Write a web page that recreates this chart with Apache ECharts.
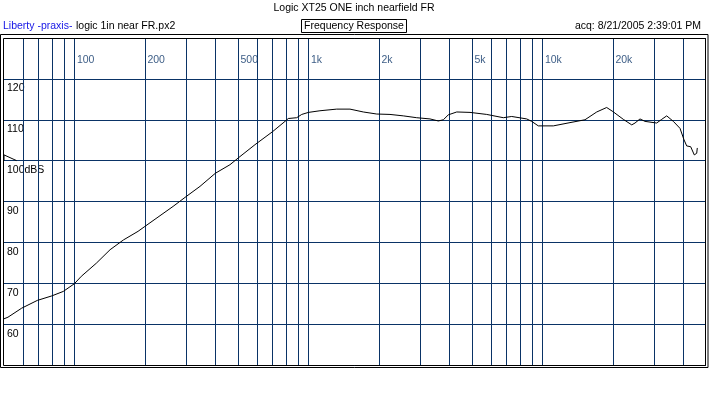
<!DOCTYPE html>
<html>
<head>
<meta charset="utf-8">
<script src="https://cdn.jsdelivr.net/npm/echarts@6/dist/echarts.min.js"></script>
<style>
html,body{margin:0;padding:0;background:#fff;}
#chart{width:709px;height:395px;}
</style>
</head>
<body>
<div id="chart"></div>
<script>
// Frequency response (Hz -> dB SPL)
var freq = [50, 52, 59.5, 69.4, 80, 89.6, 100, 107, 124, 142, 162, 187, 200, 264, 300, 344, 400, 462, 510, 591, 703, 794, 820, 891, 936, 1000, 1120, 1321, 1505, 1716, 1958, 2231, 2543, 2901, 3307, 3589, 3771, 3960, 4302, 4903, 5778, 6805, 7391, 8565, 8997, 9599, 11130, 13117, 15200, 17060, 18815, 20000, 22163, 24075, 24870, 26120, 27440, 30780, 32340, 33970, 36260, 38710, 40270, 41350, 43010, 44560, 45630, 45900];
var spl = [61.3, 61.7, 63.9, 65.8, 66.9, 68.0, 69.9, 71.7, 74.9, 78.2, 80.6, 82.7, 83.9, 88.8, 91.2, 93.7, 96.9, 99.0, 101.0, 103.9, 107.1, 109.6, 110.3, 110.5, 111.3, 111.8, 112.2, 112.6, 112.6, 111.9, 111.4, 111.3, 110.95, 110.5, 110.2, 109.7, 110.0, 111.2, 111.9, 111.8, 111.3, 110.5, 110.8, 110.2, 109.6, 108.5, 108.5, 109.3, 110.0, 111.9, 113.0, 112.0, 110.1, 108.75, 109.2, 110.2, 109.6, 109.2, 110.1, 110.95, 109.6, 107.9, 105.1, 103.6, 103.4, 101.4, 101.8, 103.1];

// reference level marker
var refFreq = [50, 50, 56.6];
var refLevel = [100, 101.4, 100];

// axes
var gridFreqs = [60, 70, 80, 90, 100, 200, 300, 400, 500, 600, 700, 800, 900, 1000, 2000, 3000, 4000, 5000, 6000, 7000, 8000, 9000, 10000, 20000, 30000, 40000];
var labelFreqs = [100, 200, 500, 1000, 2000, 5000, 10000, 20000];
var labelTexts = ['100', '200', '500', '1k', '2k', '5k', '10k', '20k'];
var yTicks = [60, 70, 80, 90, 100, 110, 120];
var yTickTexts = ['60', '70', '80', '90', '100dBS', '110', '120'];

var FONT = '"Liberation Sans", Arial, sans-serif';
var FS = 10.5;
var GRID = '#0a3366';

var chart = echarts.init(document.getElementById('chart'), null, {renderer: 'canvas'});

var curve = freq.map(function (f, i) { return [f, spl[i]]; });
var ref = refFreq.map(function (f, i) { return [f, refLevel[i]]; });
var labelRow = 124.6;
var labelPts = labelFreqs.map(function (f, i) { return {value: [f, labelRow], name: labelTexts[i]}; });

var option = {
  animation: false,
  backgroundColor: '#fff',
  textStyle: {fontFamily: FONT},
  grid: {left: 4, right: 3, top: 38, bottom: 30, show: false},
  xAxis: {
    type: 'log', logBase: 10, min: 50, max: 50000,
    axisLine: {show: false}, axisTick: {show: false}, axisLabel: {show: false},
    splitLine: {show: false}, minorSplitLine: {show: false}
  },
  yAxis: {
    type: 'value', min: 50, max: 130, interval: 10,
    axisLine: {show: false}, axisTick: {show: false},
    splitLine: {show: true, lineStyle: {color: GRID, width: 1}},
    axisLabel: {
      show: true, inside: true, margin: 3, verticalAlign: 'top', padding: [4, 0, 0, 0],
      color: '#000', fontSize: FS, fontFamily: FONT,
      formatter: function (v) {
        var i = yTicks.indexOf(v);
        return i >= 0 ? yTickTexts[i] : '';
      }
    }
  },
  series: [
    {
      // vertical grid lines at each frequency, positioned by the log x axis
      type: 'custom', data: gridFreqs, z: 1, silent: true, clip: false,
      renderItem: function (params, api) {
        var f = api.value(0);
        var top = api.coord([f, 130]);
        var bot = api.coord([f, 50]);
        var x = Math.round(top[0]) + 0.5;
        return {
          type: 'line',
          shape: {x1: x, y1: top[1], x2: x, y2: bot[1]},
          style: {stroke: GRID, lineWidth: 1}
        };
      },
      encode: {x: 0}
    },
    {
      type: 'scatter', data: labelPts, symbolSize: 1, z: 2, silent: true,
      itemStyle: {color: 'rgba(0,0,0,0)'},
      label: {
        show: true, position: 'right', distance: 2, color: GRID, fontSize: FS, fontFamily: FONT,
        formatter: function (p) { return p.name; }
      }
    },
    {
      type: 'line', data: curve, z: 5, silent: true, showSymbol: false, symbol: 'none',
      lineStyle: {color: '#000', width: 1}, clip: true
    },
    {
      type: 'line', data: ref, z: 5, silent: true, showSymbol: false, symbol: 'none',
      lineStyle: {color: '#000', width: 1}, clip: false
    }
  ],
  graphic: [
    {type: 'rect', z: 100, silent: true, shape: {x: 0.5, y: 34.5, width: 707.5, height: 333}, style: {fill: null, stroke: '#000', lineWidth: 1}},
    {type: 'rect', z: 100, silent: true, shape: {x: 3.5, y: 38.5, width: 702, height: 327}, style: {fill: null, stroke: '#000', lineWidth: 1}},
    {type: 'text', z: 100, silent: true, x: 354, y: 8, style: {text: 'Logic XT25 ONE inch nearfield FR', font: FS + 'px ' + FONT, fill: '#000', align: 'center', verticalAlign: 'middle'}},
    {type: 'rect', z: 100, silent: true, shape: {x: 301.5, y: 19.5, width: 105, height: 13}, style: {fill: null, stroke: '#000', lineWidth: 1}},
    {type: 'text', z: 100, silent: true, x: 354, y: 26, style: {text: 'Frequency Response', font: FS + 'px ' + FONT, fill: '#000', align: 'center', verticalAlign: 'middle'}},
    {type: 'text', z: 100, silent: true, x: 3, y: 26, style: {text: 'Liberty -praxis-', font: FS + 'px ' + FONT, fill: '#1515e6', align: 'left', verticalAlign: 'middle'}},
    {type: 'text', z: 100, silent: true, x: 76, y: 26, style: {text: 'logic 1in near FR.px2', font: FS + 'px ' + FONT, fill: '#000', align: 'left', verticalAlign: 'middle'}},
    {type: 'text', z: 100, silent: true, x: 701, y: 26, style: {text: 'acq: 8/21/2005 2:39:01 PM', font: FS + 'px ' + FONT, fill: '#000', align: 'right', verticalAlign: 'middle'}}
  ]
};
chart.setOption(option);
</script>
</body>
</html>
